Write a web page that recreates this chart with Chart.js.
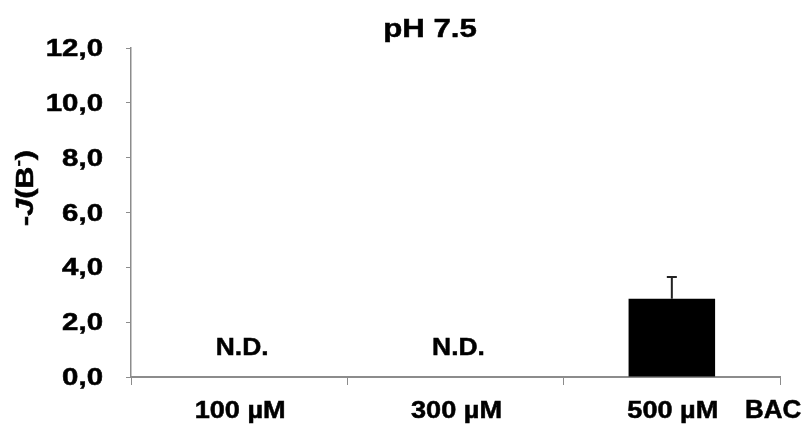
<!DOCTYPE html>
<html>
<head>
<meta charset="utf-8">
<script src="https://cdn.jsdelivr.net/npm/chart.js@4"></script>
<style>
  html, body { margin: 0; padding: 0; background: #fff; }
  #wrap { width: 811px; height: 427px; }
</style>
</head>
<body>
<div id="wrap"><canvas id="c" width="811" height="427"></canvas></div>
<script>
// data
const categories = ['100 µM', '300 µM', '500 µM'];
const values = [0, 0, 2.85];
const errors = [0, 0, 0.8];
const notDetected = [true, true, false];
const yTicks = [0, 2, 4, 6, 8, 10, 12];

const FONT = '"Liberation Sans", Arial, sans-serif';
const AXIS_GRAY = '#8c8c8c';

// text in the reference is wide and heavy, so draw it stretched + lightly stroked
function wideText(ctx, text, x, y, font, sx, align) {
  ctx.save();
  ctx.font = font;
  ctx.textBaseline = 'alphabetic';
  ctx.textAlign = align || 'center';
  ctx.translate(x, y);
  ctx.scale(sx, 1);
  ctx.fillText(text, 0, 0);
  ctx.lineWidth = 0.5;
  ctx.strokeStyle = '#000';
  ctx.strokeText(text, 0, 0);
  ctx.restore();
}

const extras = {
  id: 'extras',
  afterDatasetsDraw(chart) {
    const ctx = chart.ctx;
    const meta = chart.getDatasetMeta(0);
    const xs = chart.scales.x;
    const ys = chart.scales.y;
    ctx.save();
    ctx.fillStyle = '#000';

    // error bars + N.D.
    meta.data.forEach((bar, i) => {
      if (errors[i] > 0) {
        const top = ys.getPixelForValue(values[i] + errors[i]);
        ctx.strokeStyle = '#222';
        ctx.lineWidth = 2;
        ctx.beginPath();
        ctx.moveTo(bar.x, bar.y);
        ctx.lineTo(bar.x, top);
        ctx.moveTo(bar.x - 5, top);
        ctx.lineTo(bar.x + 5, top);
        ctx.stroke();
      }
      if (notDetected[i]) {
        wideText(ctx, 'N.D.', bar.x + 3, ys.getPixelForValue(0) - 22, 'bold 24px ' + FONT, 1.1);
      }
    });

    // y tick labels
    yTicks.forEach(v => {
      const y = ys.getPixelForValue(v);
      wideText(ctx, v.toFixed(1).replace('.', ','), ys.right - 28, y + 8,
        'bold 23px ' + FONT, 1.28, 'right');
    });

    // x tick labels
    categories.forEach((c, i) => {
      wideText(ctx, c, xs.getPixelForValue(i) + 1, ys.bottom + 41, 'bold 23px ' + FONT, 1.18);
    });

    // title and "BAC"
    wideText(ctx, 'pH 7.5', 430, 37, 'bold 26px ' + FONT, 1.2);
    wideText(ctx, 'BAC', 745, ys.bottom + 41, 'bold 25px ' + FONT, 1.04, 'left');

    // y axis title: -J(B-) with italic J and superscript minus
    ctx.translate(33, 188);
    ctx.rotate(-Math.PI / 2);
    ctx.scale(1.27, 1);
    ctx.textAlign = 'left';
    ctx.textBaseline = 'alphabetic';
    ctx.strokeStyle = '#000';
    ctx.lineWidth = 0.5;
    const parts = [
      { t: '-', f: 'bold 24px ' + FONT, dy: 0 },
      { t: 'J', f: 'italic bold 24px ' + FONT, dy: 0 },
      { t: '(B', f: 'bold 24px ' + FONT, dy: 0 },
      { t: '-', f: 'bold 15px ' + FONT, dy: -10 },
      { t: ')', f: 'bold 24px ' + FONT, dy: 0 }
    ];
    let total = 0;
    parts.forEach(p => { ctx.font = p.f; total += ctx.measureText(p.t).width; });
    let x = -total / 2;
    parts.forEach(p => {
      ctx.font = p.f;
      ctx.fillText(p.t, x, p.dy);
      ctx.strokeText(p.t, x, p.dy);
      x += ctx.measureText(p.t).width;
    });
    ctx.restore();
  }
};

new Chart(document.getElementById('c'), {
  type: 'bar',
  data: {
    labels: categories,
    datasets: [{
      data: values,
      backgroundColor: '#000',
      borderWidth: 0,
      barPercentage: 0.4,
      categoryPercentage: 1.0
    }]
  },
  options: {
    responsive: false,
    animation: false,
    layout: { padding: { left: 0, right: 31, top: 48, bottom: 0 } },
    plugins: { legend: { display: false }, tooltip: { enabled: false } },
    scales: {
      x: {
        grid: { offset: true, drawOnChartArea: false, tickLength: 8, color: AXIS_GRAY },
        border: { color: AXIS_GRAY, width: 2 },
        ticks: { display: false },
        afterFit(s) { s.height = 50; }
      },
      y: {
        min: 0,
        max: 12,
        afterBuildTicks(s) { s.ticks = yTicks.map(v => ({ value: v })); },
        grid: { drawOnChartArea: false, tickLength: 5, color: AXIS_GRAY },
        border: { color: AXIS_GRAY, width: 1.5 },
        ticks: { display: false },
        afterFit(s) { s.width = 131; }
      }
    }
  },
  plugins: [extras]
});
</script>
</body>
</html>
